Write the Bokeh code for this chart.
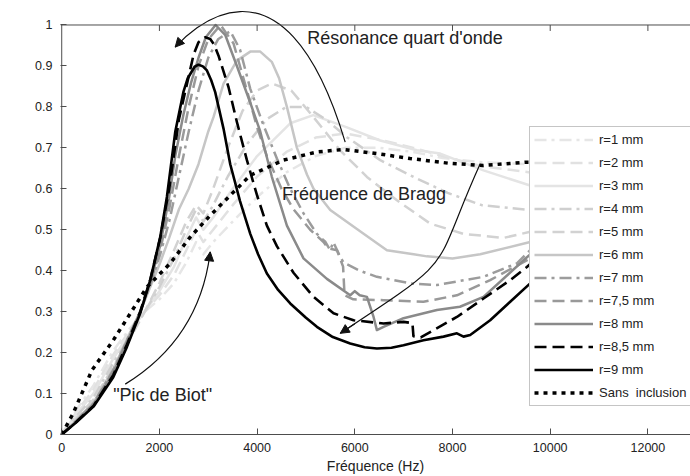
import math
from bokeh.plotting import figure
from bokeh.models import (Range1d, FixedTicker, Legend, LegendItem, Label, Span,
                          Arrow, NormalHead)
from bokeh.embed import file_html
from bokeh.resources import INLINE

FONT = "Liberation Sans"
INK = "#222222"
AX = "#4d4d4d"

# ---------------- data ----------------
x_ticks = [0, 2000, 4000, 6000, 8000, 10000, 12000]
x_tick_labels = ["0", "2000", "4000", "6000", "8000", "10000", "12000"]
y_ticks = [0, 0.1, 0.2, 0.3, 0.4, 0.5, 0.6, 0.7, 0.8, 0.9, 1]
y_tick_labels = ["0", "0.1", "0.2", "0.3", "0.4", "0.5", "0.6", "0.7", "0.8", "0.9", "1"]

grid_light = [0, 300, 650, 1055, 1400, 1700, 2000, 2300, 2550, 2750, 2900, 3100, 3500,
              4000, 4600, 5200, 5800, 6500, 7200, 7800, 8600, 9590, 10000, 10400]

r1_f = grid_light
r1_a = [0, 0.06, 0.12, 0.205, 0.26, 0.3, 0.33, 0.37, 0.42, 0.47, 0.44, 0.47, 0.52, 0.58,
        0.64, 0.68, 0.7, 0.7, 0.69, 0.675, 0.665, 0.66, 0.66, 0.66]

r2_f = grid_light
r2_a = [0, 0.055, 0.11, 0.195, 0.255, 0.3, 0.34, 0.39, 0.45, 0.5, 0.47, 0.5, 0.56, 0.63,
        0.69, 0.725, 0.735, 0.72, 0.7, 0.68, 0.655, 0.64, 0.64, 0.64]

r3_f = [0, 300, 650, 1055, 1400, 1700, 2000, 2300, 2550, 2750, 2900, 3100, 3500, 4000,
        4678, 5150, 5838, 6520, 7271, 7748, 8634, 9590, 10000, 10400]
r3_a = [0, 0.05, 0.1, 0.185, 0.25, 0.3, 0.35, 0.41, 0.48, 0.53, 0.5, 0.53, 0.6, 0.68,
        0.76, 0.78, 0.75, 0.718, 0.694, 0.686, 0.645, 0.608, 0.6, 0.6]

r4_f = [0, 300, 650, 1055, 1400, 1700, 2000, 2300, 2550, 2750, 2900, 3100, 3400, 3800,
        4200, 4600, 5000, 5400, 5838, 6520, 7203, 7900, 8600, 9590, 10000, 10400]
r4_a = [0, 0.045, 0.09, 0.175, 0.24, 0.3, 0.36, 0.43, 0.5, 0.55, 0.52, 0.56, 0.63, 0.71,
        0.77, 0.8, 0.8, 0.77, 0.726, 0.67, 0.629, 0.59, 0.56, 0.548, 0.55, 0.56]

r5_f = [0, 300, 650, 1055, 1400, 1700, 2000, 2300, 2550, 2750, 2900, 3100, 3400, 3700,
        4000, 4300, 4700, 5155, 5700, 6248, 6862, 7543, 8225, 9044, 9590, 10000, 10400]
r5_a = [0, 0.04, 0.085, 0.165, 0.235, 0.3, 0.37, 0.45, 0.52, 0.56, 0.54, 0.6, 0.7, 0.79,
        0.84, 0.857, 0.84, 0.775, 0.694, 0.629, 0.572, 0.515, 0.49, 0.48, 0.495, 0.51, 0.52]

r6_f = [0, 300, 650, 1055, 1335, 1607, 1812, 2016, 2200, 2400, 2600, 2800, 3000, 3107,
        3313, 3586, 3860, 4064, 4300, 4450, 4610, 4815, 5020, 5155, 5497, 6180, 6657,
        7203, 7476, 8000, 8567, 9590, 10000, 10400]
r6_a = [0, 0.035, 0.078, 0.16, 0.232, 0.3, 0.36, 0.42, 0.48, 0.55, 0.6, 0.66, 0.74, 0.775,
        0.857, 0.913, 0.935, 0.935, 0.91, 0.87, 0.8, 0.7, 0.635, 0.6, 0.548, 0.49, 0.45,
        0.44, 0.435, 0.43, 0.44, 0.47, 0.5, 0.52]

r7_f = [0, 300, 650, 1055, 1335, 1607, 1812, 2016, 2200, 2400, 2600, 2800, 3000, 3200,
        3450, 3650, 3860, 4131, 4405, 4678, 4950, 5224, 5400, 5496, 5560, 5700, 5770,
        6100, 6452, 7134, 7680, 8634, 9318, 9590, 10000, 10400]
r7_a = [0, 0.034, 0.076, 0.157, 0.23, 0.3, 0.365, 0.44, 0.52, 0.63, 0.74, 0.84, 0.92,
        0.965, 0.985, 0.94, 0.844, 0.755, 0.674, 0.6, 0.54, 0.49, 0.47, 0.45, 0.47, 0.434,
        0.42, 0.4, 0.385, 0.369, 0.365, 0.385, 0.418, 0.45, 0.48, 0.5]

r75_f = [0, 300, 650, 1055, 1335, 1607, 1812, 2016, 2200, 2400, 2600, 2800, 3000, 3250,
         3517, 3791, 4000, 4200, 4500, 4745, 5087, 5360, 5450, 5634, 5760, 5790, 5968,
         6588, 7406, 8090, 8771, 9590, 10000, 10400]
r75_a = [0, 0.033, 0.075, 0.155, 0.228, 0.3, 0.368, 0.45, 0.55, 0.68, 0.8, 0.9, 0.965,
         1.0, 0.955, 0.84, 0.75, 0.68, 0.6, 0.55, 0.5, 0.47, 0.455, 0.45, 0.41, 0.34, 0.33,
         0.328, 0.324, 0.34, 0.377, 0.43, 0.47, 0.5]

r8_f = [0, 300, 650, 1055, 1335, 1607, 1812, 2016, 2200, 2324, 2490, 2650, 2800, 2950,
        3150, 3350, 3586, 3860, 4064, 4300, 4610, 4950, 5429, 5906, 6000, 6100, 6248,
        6384, 6452, 6588, 6997, 7680, 8153, 8634, 9590, 10000, 10400]
r8_a = [0, 0.032, 0.072, 0.15, 0.225, 0.3, 0.372, 0.462, 0.58, 0.68, 0.78, 0.86, 0.92,
        0.97, 1.0, 0.975, 0.9, 0.81, 0.74, 0.63, 0.51, 0.43, 0.38, 0.34, 0.35, 0.34,
        0.336, 0.287, 0.255, 0.263, 0.284, 0.304, 0.312, 0.336, 0.44, 0.48, 0.5]

r85_f = [0, 300, 650, 1055, 1335, 1607, 1812, 2016, 2200, 2400, 2600, 2700, 2800, 2937,
         3040, 3120, 3210, 3415, 3586, 3791, 3996, 4200, 4405, 4745, 5155, 5564, 5974,
         6588, 6997, 7180, 7200, 7350, 7611, 8090, 8634, 9181, 9523, 10000, 10400]
r85_a = [0, 0.031, 0.07, 0.145, 0.22, 0.3, 0.378, 0.48, 0.6, 0.77, 0.875, 0.928, 0.958,
         0.97, 0.966, 0.952, 0.925, 0.848, 0.763, 0.67, 0.585, 0.51, 0.46, 0.395, 0.336,
         0.296, 0.279, 0.271, 0.275, 0.272, 0.24, 0.237, 0.255, 0.287, 0.332, 0.377, 0.409,
         0.46, 0.5]

r9_f = [0, 300, 650, 1055, 1335, 1607, 1812, 2016, 2153, 2324, 2490, 2580, 2720, 2800,
        2890, 2972, 3060, 3142, 3312, 3450, 3650, 3860, 4020, 4200, 4430, 4678, 5000,
        5224, 5550, 5906, 6200, 6452, 6750, 6997, 7406, 7816, 8090, 8225, 8362, 8771,
        9181, 9590, 10000, 10400]
r9_a = [0, 0.03, 0.068, 0.14, 0.214, 0.296, 0.377, 0.482, 0.58, 0.739, 0.836, 0.87,
        0.898, 0.903, 0.899, 0.889, 0.865, 0.836, 0.747, 0.66, 0.57, 0.49, 0.44, 0.393,
        0.353, 0.32, 0.285, 0.263, 0.238, 0.222, 0.213, 0.21, 0.212, 0.218, 0.23, 0.239,
        0.247, 0.239, 0.243, 0.279, 0.324, 0.369, 0.41, 0.45]

sans_f = [0, 236, 618, 1055, 1400, 1744, 2221, 2630, 3040, 3450, 3860, 4540, 5225, 5770,
          6450, 7130, 7950, 8630, 9520, 10000, 10400]
sans_a = [0, 0.052, 0.157, 0.23, 0.295, 0.36, 0.418, 0.482, 0.535, 0.584, 0.633, 0.67,
          0.69, 0.696, 0.686, 0.674, 0.662, 0.657, 0.665, 0.665, 0.664]

labels = ["r=1 mm", "r=2 mm", "r=3 mm", "r=4 mm", "r=5 mm", "r=6 mm", "r=7 mm",
          "r=7,5 mm", "r=8 mm", "r=8,5 mm", "r=9 mm", "Sans  inclusion"]

# annotation geometry (data coordinates)
reso_curve = dict(x0=5803, y0=0.714, cx0=4510, cy0=1.228, cx1=2526, cy1=0.973, x1=2323, y1=0.946)
bragg_curve = dict(x0=8567, y0=0.661, cx0=7537, cy0=0.389, cx1=8190, cy1=0.443, x1=5701, y1=0.247)
biot_curve = dict(x0=1300, y0=0.123, cx0=2434, cy0=0.206, cx1=2915, cy1=0.323, x1=3040, y1=0.446)

# ---------------- figure ----------------
W, H = 690, 476
p = figure(width=W, height=H, output_backend="svg", toolbar_location=None,
           x_range=Range1d(-25, 12872), y_range=Range1d(0, 1.0598),
           min_border_left=60, min_border_right=0, min_border_top=0,
           min_border_bottom=41, title=None)
p.outline_line_color = None
p.xgrid.visible = False
p.ygrid.visible = False
p.background_fill_color = "white"
p.border_fill_color = "white"

for ax in (p.xaxis[0], p.yaxis[0]):
    ax.major_tick_in = 6
    ax.major_tick_out = 0
    ax.minor_tick_in = 0
    ax.minor_tick_out = 0
    ax.major_tick_line_color = AX
    ax.major_label_text_font = FONT
    ax.major_label_text_font_size = "12.5px"
    ax.major_label_text_color = INK
    ax.major_label_standoff = 8

p.xaxis.ticker = FixedTicker(ticks=x_ticks)
p.xaxis.major_label_overrides = dict(zip(x_ticks, x_tick_labels))
p.xaxis.axis_line_color = AX
p.xaxis.axis_label = "Fréquence (Hz)"
p.xaxis.axis_label_text_font = FONT
p.xaxis.axis_label_text_font_size = "14px"
p.xaxis.axis_label_text_font_style = "normal"
p.xaxis.axis_label_text_color = INK
p.xaxis.axis_label_standoff = 3

p.yaxis.ticker = FixedTicker(ticks=y_ticks)
p.yaxis.major_label_overrides = dict(zip(y_ticks, y_tick_labels))
p.yaxis.axis_line_color = None

# frame borders (left + top) and inward top ticks
p.add_layout(Span(location=1, dimension="width", line_color=AX, line_width=1))
p.segment(x0=[0], y0=[0], x1=[0], y1=[1], line_color=AX, line_width=1)
top_tick_len = 6 / 410
p.segment(x0=x_ticks[1:], y0=[1] * (len(x_ticks) - 1), x1=x_ticks[1:],
          y1=[1 - top_tick_len] * (len(x_ticks) - 1), line_color=AX, line_width=1)

# ---------------- curves ----------------
series = [
    (r1_f, r1_a, "#e6e6e6", "12 5 3 5", 2.5),
    (r2_f, r2_a, "#e1e1e1", "12 6", 2.5),
    (r3_f, r3_a, "#e4e4e4", "solid", 2.5),
    (r4_f, r4_a, "#cfcfcf", "12 5 3 5", 2.5),
    (r5_f, r5_a, "#d2d2d2", "12 6", 2.5),
    (r6_f, r6_a, "#c6c6c6", "solid", 2.5),
    (r7_f, r7_a, "#9c9c9c", "12 5 3 5", 2.5),
    (r75_f, r75_a, "#999999", "12 6", 2.5),
    (r8_f, r8_a, "#8a8a8a", "solid", 2.5),
    (r85_f, r85_a, "#000000", "12 6", 2.6),
    (r9_f, r9_a, "#000000", "solid", 2.6),
    (sans_f, sans_a, "#000000", "4 5", 3.5),
]

items = []
for (f, a, col, dash, lw), lab in zip(series, labels):
    r = p.line(f, a, line_color=col, line_dash=dash, line_width=lw, line_join="round")
    items.append(LegendItem(label=lab, renderers=[r]))

# ---------------- annotations ----------------
for c in (reso_curve, bragg_curve, biot_curve):
    p.bezier(x0=[c["x0"]], y0=[c["y0"]], x1=[c["x1"]], y1=[c["y1"]],
             cx0=[c["cx0"]], cy0=[c["cy0"]], cx1=[c["cx1"]], cy1=[c["cy1"]],
             line_color="#111111", line_width=1.2)
    t = 0.12
    xs = c["x1"] + t * (c["cx1"] - c["x1"])
    ys = c["y1"] + t * (c["cy1"] - c["y1"])
    p.add_layout(Arrow(end=NormalHead(size=9, fill_color="#111111", line_color="#111111",
                                      line_width=1),
                       x_start=xs, y_start=ys, x_end=c["x1"], y_end=c["y1"],
                       line_color="#111111", line_width=1.2))

def add_text(x, y, txt, size="18px", **kw):
    p.add_layout(Label(x=x, y=y, text=txt, text_font=FONT, text_font_size=size,
                       text_color=INK, **kw))

add_text(5026, 0.945, "Résonance quart d'onde")
add_text(4508, 0.562, "Fréquence de Bragg")
add_text(1054, 0.072, "\"Pic de Biot\"")
add_text(-839, 0.45, "Coefficient d'absorption", size="14px", angle=math.pi / 2,
         text_align="center", text_baseline="middle")

legend = Legend(items=items, location=(469, 28), margin=0, padding=4, spacing=6,
                glyph_width=59, glyph_height=17, label_height=17, label_width=110,
                label_standoff=6, label_text_font=FONT, label_text_font_size="13px",
                label_text_color=INK, border_line_color="#8c8c8c", border_line_width=1,
                background_fill_color="white", background_fill_alpha=1.0)
p.add_layout(legend)

open("out.html", "w").write(file_html(p, INLINE))
